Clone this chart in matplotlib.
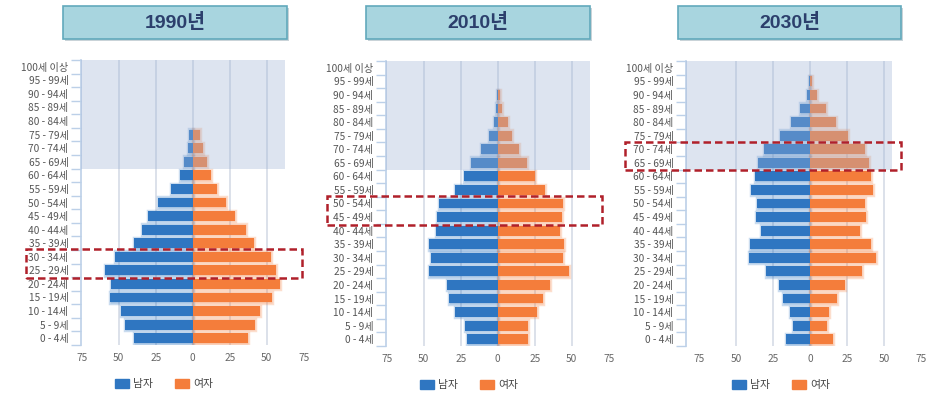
import numpy as np
import matplotlib
matplotlib.use("Agg")
import matplotlib.pyplot as plt
from matplotlib.patches import Rectangle, Patch
from matplotlib.transforms import blended_transform_factory

plt.rcParams['font.family'] = ['Noto Sans CJK KR', 'DejaVu Sans']

W, H = 928, 393

ages = ['0 - 4세', '5 - 9세', '10 - 14세', '15 - 19세', '20 - 24세', '25 - 29세',
        '30 - 34세', '35 - 39세', '40 - 44세', '45 - 49세', '50 - 54세', '55 - 59세',
        '60 - 64세', '65 - 69세', '70 - 74세', '75 - 79세', '80 - 84세', '85 - 89세',
        '90 - 94세', '95 - 99세', '100세 이상']

years = ['1990년', '2010년', '2030년']

male_1990 = [39.5, 45.8, 48.5, 56, 55, 59.3, 52.8, 39.5, 34.6, 30.5, 23.8, 14.8,
             8.5, 6, 3.2, 2.2, 0, 0, 0, 0, 0]
female_1990 = [37.3, 42.3, 45.3, 53.3, 59.2, 56.3, 53, 41.3, 36, 28.8, 22.7, 16.3,
               12.3, 9.7, 7, 4.8, 0, 0, 0, 0, 0]

male_2010 = [20.6, 22, 28.6, 33.2, 34.3, 46.6, 45.3, 46.6, 41.8, 41, 39.6, 29.2,
             23, 18, 11.3, 5.8, 2.5, 1.3, 0.8, 0, 0]
female_2010 = [20.3, 20.3, 26.6, 30.4, 35.6, 48.3, 43.8, 44.5, 42.3, 43.3, 43.8, 32.2,
               25.5, 20, 14.4, 9.4, 6.6, 2.9, 1.2, 0, 0]

male_2030 = [16.4, 11.9, 13.5, 18.7, 20.9, 29.7, 41.2, 41, 33.5, 36.7, 35.8, 40.1,
             37.1, 35.6, 31.1, 20.2, 12.8, 6.8, 2.4, 0.7, 0]
female_2030 = [15.5, 11, 12.8, 17.8, 23.4, 34.7, 44.3, 40.7, 33.5, 37.6, 36.9, 42.1,
               40.7, 39.6, 36.9, 25.7, 17.3, 10.6, 4.4, 0.8, 0]

males = [male_1990, male_2010, male_2030]
females = [female_1990, female_2010, female_2030]

blue = '#2F76C1'
orange = '#F47D3B'
px_per_unit = 1.48

# per panel: x of left spine, x of zero, top and bottom of the plot (pixels)
panels = [
    dict(left=81, zero=193, top=60, bottom=345, xmin=-75.5, shade_to=62,
         title_box=(63, 287), box_x=(26, 302), box_rows=(4.5, 6.5)),
    dict(left=386, zero=498, top=61, bottom=346, xmin=-75.5, shade_to=62,
         title_box=(366, 590), box_x=(327, 602), box_rows=(8.5, 10.5)),
    dict(left=686, zero=810, top=61, bottom=346, xmin=-84, shade_to=55,
         title_box=(678, 901), box_x=(625, 901), box_rows=(12.5, 14.5)),
]

fig = plt.figure(figsize=(W / 100, H / 100), dpi=100)
y = np.arange(len(ages))

for i, p in enumerate(panels):
    xmax = 75
    width_px = (xmax - p['xmin']) * px_per_unit
    ax = fig.add_axes([p['left'] / W, 1 - p['bottom'] / H, width_px / W,
                       (p['bottom'] - p['top']) / H])

    m = np.array(males[i])
    f = np.array(females[i])
    for vals, sign, col in [(m, -1, blue), (f, 1, orange)]:
        keep = vals > 0
        # soft halo behind the bars
        ax.barh(y[keep], sign * vals[keep], height=0.78, color=col, alpha=0.25,
                linewidth=2.5, edgecolor=col, zorder=2)
        ax.barh(y[keep], sign * vals[keep], height=0.72, color=col, zorder=3)

    ax.set_xlim(p['xmin'], xmax)
    ax.set_ylim(-0.5, len(ages) - 0.5)

    for gx in [-50, -25, 0, 25, 50]:
        ax.axvline(gx, color='#D5DCE6', lw=1.2, zorder=1)

    # elderly age band overlay
    ax.add_patch(Rectangle((p['xmin'], 12.5), p['shade_to'] - p['xmin'], 8,
                           facecolor='#9FB4D6', alpha=0.35, lw=0, zorder=4))

    ax.set_yticks(y)
    ax.set_yticklabels(ages, fontsize=7.3, color='#555555')
    ax.set_yticks(np.arange(-0.5, len(ages), 1), minor=True)
    ax.tick_params(axis='y', which='major', length=0, pad=9)
    ax.tick_params(axis='y', which='minor', length=7, color='#BCD0E8', width=1)

    ax.set_xticks([-75, -50, -25, 0, 25, 50, 75])
    ax.set_xticklabels(['75', '50', '25', '0', '25', '50', '75'],
                       fontsize=7.3, color='#666666')
    ax.tick_params(axis='x', length=0, pad=6)

    for s in ['top', 'right', 'bottom']:
        ax.spines[s].set_visible(False)
    ax.spines['left'].set_color('#BCD0E8')
    ax.spines['left'].set_linewidth(1.2)

    # dashed highlight around the key age groups
    tr = blended_transform_factory(ax.transAxes, ax.transData)
    bx0 = (p['box_x'][0] - p['left']) / width_px
    bx1 = (p['box_x'][1] - p['left']) / width_px
    r0, r1 = p['box_rows']
    ax.add_patch(Rectangle((bx0, r0 - 0.05), bx1 - bx0, r1 - r0 + 0.1,
                           transform=tr, fill=False, edgecolor='#B0202A',
                           lw=1.8, linestyle=(0, (3, 1.6)), clip_on=False,
                           zorder=6))

    # legend
    lx = (p['zero'] - 29 - p['left']) / width_px
    ax.legend(handles=[Patch(color=blue, label='남자'), Patch(color=orange, label='여자')],
              loc='center', bbox_to_anchor=(lx, -0.137), ncol=2, frameon=False,
              fontsize=7.8, handlelength=1.3, handleheight=1.0, handletextpad=0.4,
              columnspacing=2.0, labelcolor='#444444')

    # title box with shadow
    tx0, tx1 = p['title_box']
    fig.patches.append(Rectangle(((tx0 + 2) / W, 1 - 41 / H), (tx1 - tx0) / W, 33 / H,
                                 transform=fig.transFigure, facecolor='#C9D3D8',
                                 edgecolor='none', zorder=0))
    fig.patches.append(Rectangle((tx0 / W, 1 - 39 / H), (tx1 - tx0) / W, 33 / H,
                                 transform=fig.transFigure, facecolor='#A8D5DF',
                                 edgecolor='#62A9BC', lw=1.2, zorder=1))
    fig.text((tx0 + tx1) / 2 / W, 1 - 22.5 / H, years[i], ha='center', va='center',
             fontsize=14, fontweight='bold', color='#2C3F6C',
             family=['Liberation Sans', 'Noto Sans CJK KR'])

fig.savefig('out.png', dpi=100)
